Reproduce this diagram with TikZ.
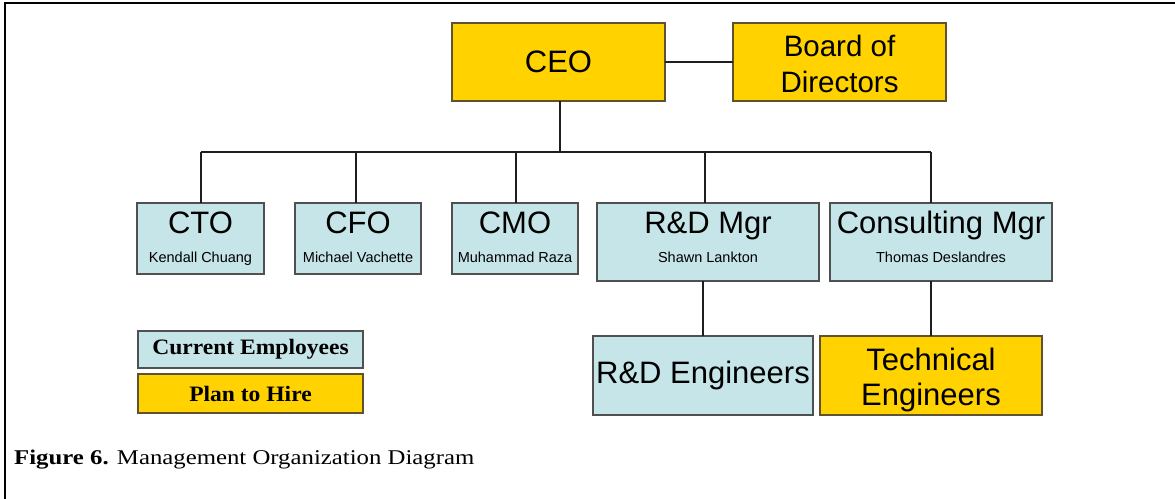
\documentclass[tikz,border=0pt]{standalone}
\usepackage{fontspec}
\setmainfont{Liberation Sans}
\newfontfamily\legendfont[FakeStretch=1.07]{Liberation Serif}
\newfontfamily\captionfont[FakeStretch=1.18]{Liberation Serif}
\usetikzlibrary{shadows}

\definecolor{staffblue}{HTML}{C6E5E8}
\definecolor{hiregold}{HTML}{FFD200}
\definecolor{blueedge}{HTML}{505050}
\definecolor{goldedge}{HTML}{5E5230}
\definecolor{wire}{HTML}{1E1E1E}

% title over a person's name, baselines 29pt apart; #3 = extra room below
\newcommand{\roleandname}[3]{%
  \vbox{\offinterlineskip
    \halign{\hfil##\hfil\cr
      \vrule height 22pt depth 8pt width 0pt\fontsize{31}{31}\selectfont #1\cr
      \vrule height 21pt depth #3 width 0pt\fontsize{14.5}{17}\selectfont #2\cr}}}

\tikzset{
  orgbox/.style={rectangle, inner sep=0pt, outer sep=0pt, line width=1.1pt,
    text=black,
    drop shadow={opacity=0.25, shadow xshift=1.2pt, shadow yshift=-1.2pt}},
  staffbox/.style={orgbox, fill=staffblue, draw=blueedge},
  hirebox/.style={orgbox, fill=hiregold, draw=goldedge},
  wireline/.style={draw=wire, line width=1.3pt},
  legendbox/.style={rectangle, inner sep=0pt, outer sep=0pt, line width=1.1pt,
    minimum width=225pt,
    font=\legendfont\bfseries\fontsize{22}{22}\selectfont,
    drop shadow={opacity=0.25, shadow xshift=1.2pt, shadow yshift=-1.2pt}}
}

\begin{document}
\begin{tikzpicture}[x=1pt, y=-1pt]
  \useasboundingbox (0,0) rectangle (1175,498);
  \fill[white] (0,0) rectangle (1175,498);

  % frame of the figure
  \draw[line width=2.2pt, line cap=rect] (5,498) -- (5,3) -- (1175,3);

  % top level
  \node[hirebox, minimum width=213pt, minimum height=78pt,
        font=\fontsize{31}{31}\selectfont] (ceo) at (558.5,62) {CEO};
  \node[hirebox, minimum width=213pt, minimum height=78pt, align=center,
        font=\fontsize{29.5}{36}\selectfont] (board) at (839.5,62)
    {\rule{0pt}{25pt}Board of\\Directors};

  % managers
  \node[staffbox, minimum width=127pt, minimum height=71pt] (cto) at (200.5,238.5)
    {\roleandname{CTO}{Kendall Chuang}{4pt}};
  \node[staffbox, minimum width=126pt, minimum height=71pt] (cfo) at (358,238.5)
    {\roleandname{CFO}{Michael Vachette}{4pt}};
  \node[staffbox, minimum width=126pt, minimum height=71pt] (cmo) at (515,238.5)
    {\roleandname{CMO}{Muhammad Raza}{4pt}};
  \node[staffbox, minimum width=222pt, minimum height=78pt] (rdm) at (708,242)
    {\roleandname{R\&D Mgr}{Shawn Lankton}{11pt}};
  \node[staffbox, minimum width=222pt, minimum height=78pt] (cons) at (941,242)
    {\roleandname{Consulting Mgr}{Thomas Deslandres}{11pt}};

  % teams
  \node[staffbox, minimum width=220pt, minimum height=79pt,
        font=\fontsize{31}{31}\selectfont] (rde) at (703,375.5) {R\&D Engineers};
  \node[hirebox, minimum width=222pt, minimum height=79pt, align=center,
        font=\fontsize{31}{35}\selectfont] (tech) at (931,375.5)
    {\rule{0pt}{32pt}Technical\\Engineers};

  % legend
  \node[legendbox, fill=staffblue, draw=blueedge, minimum height=37pt] (lgcur) at (250.5,349.5)
    {Current Employees};
  \node[legendbox, fill=hiregold, draw=goldedge, minimum height=39pt] (lghire) at (250.5,393.5)
    {Plan to Hire};

  % reporting lines
  \coordinate (busL) at (201,152);
  \coordinate (busR) at (931,152);
  \coordinate (ceodrop) at (560,152);
  \draw[wireline] (ceo.east) -- (board.west);
  \draw[wireline] (ceodrop |- ceo.south) -- (ceodrop);
  \draw[wireline] (busL) -- (busR);
  \draw[wireline] (busL) -- (busL |- cto.north);
  \draw[wireline] (356,152) -- (356,0 |- cfo.north);
  \draw[wireline] (516,152) -- (516,0 |- cmo.north);
  \draw[wireline] (705,152) -- (705,0 |- rdm.north);
  \draw[wireline] (busR) -- (busR |- cons.north);
  \draw[wireline] (rde.north |- rdm.south) -- (rde.north);
  \draw[wireline] (tech.north |- cons.south) -- (tech.north);

  % caption
  \node[anchor=base west, inner sep=0pt, font=\captionfont\fontsize{21}{21}\selectfont] (caption) at (14,464)
    {\textbf{Figure 6.} Management Organization Diagram};
\end{tikzpicture}
\end{document}
